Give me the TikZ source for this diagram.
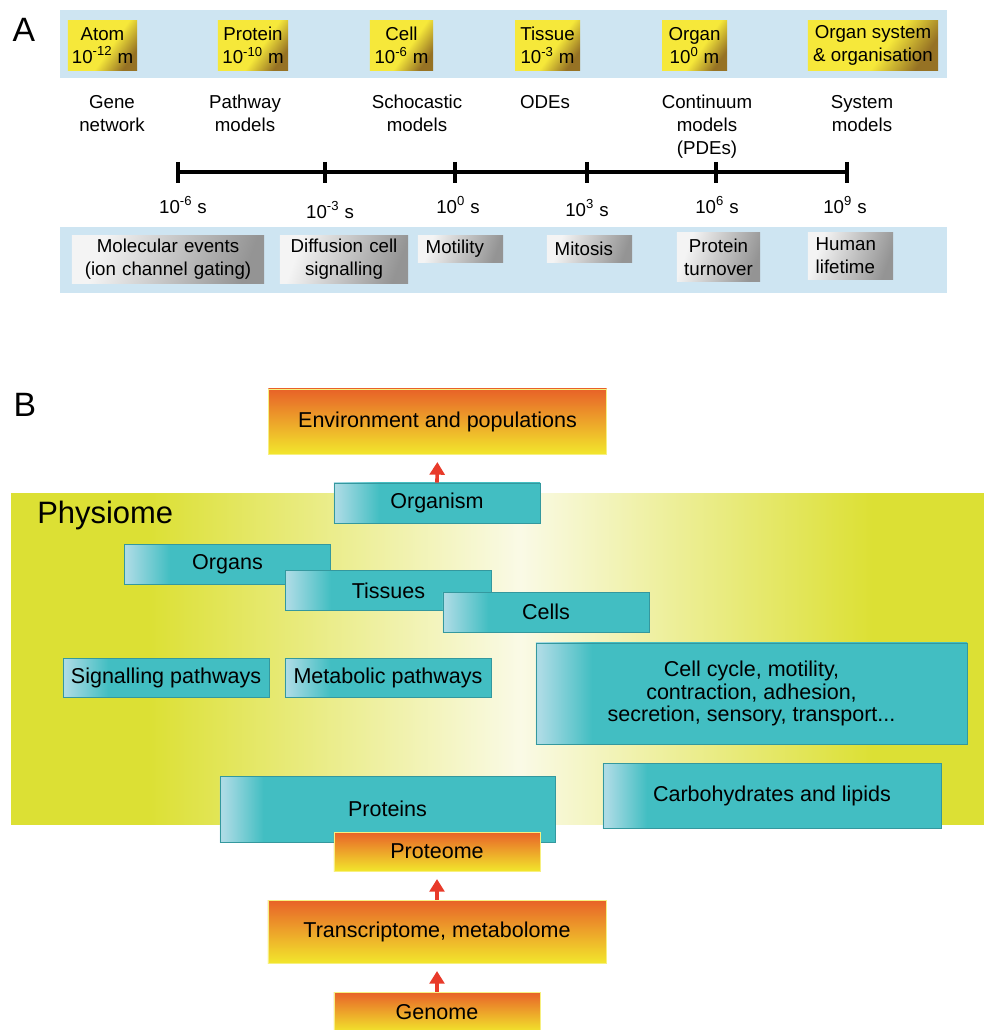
\documentclass[tikz,border=0pt]{standalone}
\usepackage{fontspec}
\setmainfont{Liberation Sans}
\usepackage{tikz}
\usetikzlibrary{arrows.meta,positioning}
\usepackage{xcolor}

\definecolor{bandblue}{RGB}{206,229,242}
\definecolor{goldA}{RGB}{246,232,58}
\definecolor{goldB}{RGB}{150,114,36}
\definecolor{grayA}{RGB}{244,244,244}
\definecolor{grayB}{RGB}{148,148,148}
\definecolor{tealA}{RGB}{172,219,229}
\definecolor{tealB}{RGB}{66,190,194}
\definecolor{tealline}{RGB}{52,152,158}
\definecolor{orTop}{RGB}{232,98,40}
\definecolor{orBot}{RGB}{242,230,44}
\definecolor{physA}{RGB}{220,224,52}
\definecolor{physW}{RGB}{250,250,230}
\definecolor{arrowred}{RGB}{232,58,42}

\pgfdeclarehorizontalshading{goldshade}{100bp}{color(0bp)=(goldA); color(56bp)=(goldA); color(75bp)=(goldB); color(100bp)=(goldB)}
\pgfdeclarehorizontalshading{grayshade}{100bp}{color(0bp)=(grayA); color(28bp)=(grayA); color(75bp)=(grayB); color(100bp)=(grayB)}
\pgfdeclarehorizontalshading{tealshade}{100bp}{color(0bp)=(tealA); color(25.5bp)=(tealA); color(36bp)=(tealB); color(100bp)=(tealB)}
\pgfdeclarehorizontalshading{widetealshade}{100bp}{color(0bp)=(tealA); color(25.5bp)=(tealA); color(31.5bp)=(tealB); color(100bp)=(tealB)}
\pgfdeclarehorizontalshading{physshade}{100bp}{color(0bp)=(physA); color(32bp)=(physA); color(51bp)=(physW); color(69bp)=(physA); color(100bp)=(physA)}

\begin{document}
\begin{tikzpicture}[x=0.025cm, y=-0.025cm,
    sizeA/.style={font=\fontsize{13.3}{16.3}\selectfont},
    sizeB/.style={font=\fontsize{15.3}{16.3}\selectfont},
    panel/.style={font=\fontsize{24}{24}\selectfont, inner sep=0},
    scalebox/.style={sizeA, shading=goldshade, shading angle=-35, inner sep=0, align=center,
        minimum height=1.225cm},
    eventbox/.style={sizeA, shading=grayshade, shading angle=-20, inner ysep=0, inner xsep=2pt, align=center},
    eventleft/.style={eventbox, inner xsep=5.5pt, align=left, text width=1.74cm},
    tealbox/.style={sizeB, shading=tealshade, draw=tealline, line width=0.5pt,
        inner sep=0, align=center, minimum width=5.15cm, minimum height=1cm},
    widebox/.style={tealbox, shading=widetealshade},
    omebox/.style={sizeB, top color=orTop, bottom color=orBot, draw=orBot!60!white, line width=0.4pt,
        inner sep=0, align=center, minimum width=5.15cm},
    timeline/.style={line width=2.7pt, black},
    uparrow/.style={-{Triangle[width=10.5pt,length=9pt]}, line width=2.6pt, arrowred, shorten >=5.5pt}
]
    \useasboundingbox (0,0) rectangle (984,1030);

    % panel A
    \node[panel] (labA) at (24,30) {A};
    \fill[bandblue] (60,10) rectangle (947,78);
    \fill[bandblue] (60,227) rectangle (947,293);

    \node[scalebox, minimum width=1.725cm] (atom) at (102.5,45.5) {Atom\\10\textsuperscript{-12} m};
    \node[scalebox, minimum width=1.75cm] (protein) at (253,45.5) {Protein\\10\textsuperscript{-10} m};
    \node[scalebox, minimum width=1.575cm] (cell) at (401.5,45.5) {Cell\\10\textsuperscript{-6} m};
    \node[scalebox, minimum width=1.625cm] (tissue) at (547.5,45.5) {Tissue\\10\textsuperscript{-3} m};
    \node[scalebox, minimum width=1.625cm] (organ) at (694.5,45.5) {Organ\\10\textsuperscript{0} m};
    \node[scalebox, minimum width=3.25cm] (system) at (873,45.5) {Organ system\\\& organisation};

    \node[sizeA, align=center, anchor=north, inner sep=0] (gene) at (112,95) {Gene\\network};
    \node[sizeA, align=center, anchor=north, inner sep=0] (pathway) at (245,95) {Pathway\\models};
    \node[sizeA, align=center, anchor=north, inner sep=0] (stoch) at (417,95) {Schocastic\\models};
    \node[sizeA, align=center, anchor=north, inner sep=0] (odes) at (545,95) {ODEs};
    \node[sizeA, align=center, anchor=north, inner sep=0] (pdes) at (707,95) {Continuum\\models\\(PDEs)};
    \node[sizeA, align=center, anchor=north, inner sep=0] (sysmod) at (862,95) {System\\models};

    \coordinate (t1) at (178,172);
    \coordinate (t2) at (325,172);
    \coordinate (t3) at (455,172);
    \coordinate (t4) at (587,172);
    \coordinate (t5) at (716,172);
    \coordinate (t6) at (847,172);
    \draw[timeline] (t1) -- (t6);
    \foreach \t in {t1,t2,t3,t4,t5,t6}
        \draw[timeline] ([yshift=7.2pt]\t) -- ([yshift=-7.6pt]\t);

    \node[sizeA] (s1) at (183,205) {10\textsuperscript{-6} s};
    \node[sizeA] (s2) at (330,210) {10\textsuperscript{-3} s};
    \node[sizeA] (s3) at (458,205) {10\textsuperscript{0} s};
    \node[sizeA] (s4) at (587,208) {10\textsuperscript{3} s};
    \node[sizeA] (s5) at (717,205) {10\textsuperscript{6} s};
    \node[sizeA] (s6) at (845,205) {10\textsuperscript{9} s};

    \node[eventbox, text width=4.66cm, minimum height=1.175cm] (molec) at (168,259.5) {Molecular events\\(ion channel gating)};
    \node[eventbox, text width=3.06cm, minimum height=1.175cm] (diffus) at (344,259.5) {Diffusion cell\\signalling};
    \node[eventleft, minimum height=0.65cm] (motil) at (460.5,249) {Motility};
    \node[eventleft, minimum height=0.65cm] (mitos) at (589.5,249) {Mitosis};
    \node[eventbox, text width=1.935cm, minimum height=1.2cm] (turn) at (718.5,257) {Protein\\turnover};
    \node[eventleft, minimum height=1.15cm] (human) at (850.5,256) {Human\\lifetime};

    % panel B
    \node[panel] (labB) at (25,405) {B};
    \shade[shading=physshade] (11,493) rectangle (990,824);
    \node[font=\fontsize{22}{22}\selectfont, anchor=west, inner sep=0] (physiome) at (37,515) {Physiome};

    \node[omebox, minimum width=8.45cm, minimum height=1.625cm] (env) at (437.5,421.5) {Environment and populations};
    \node[tealbox] (organism) at (437,503) {Organism};
    \draw[uparrow] (organism.north) -- (env.south);

    \node[tealbox] (organs) at (227.5,564.5) {Organs};
    \node[tealbox] (tissues) at (388.5,590.5) {Tissues};
    \node[tealbox] (cells) at (546,612) {Cells};

    \node[tealbox, minimum height=0.975cm] (signal) at (166,677.5) {Signalling pathways};
    \node[tealbox, minimum height=0.975cm] (metab) at (388,677.5) {Metabolic pathways};
    \node[widebox, minimum width=10.775cm, minimum height=2.525cm] (cycle) at (751.5,693.5)
        {Cell cycle, motility,\\contraction, adhesion,\\secretion, sensory, transport...};
    \node[widebox, minimum width=8.45cm, minimum height=1.625cm] (carbs) at (772,795.5) {Carbohydrates and lipids};
    \node[widebox, minimum width=8.375cm, minimum height=1.65cm] (proteins) at (387.5,809) {Proteins};

    \node[omebox, minimum height=0.975cm] (proteome) at (437,851.5) {Proteome};
    \node[omebox, minimum width=8.45cm, minimum height=1.575cm] (transc) at (437,931.5) {Transcriptome, metabolome};
    \node[omebox, minimum height=1cm] (genome) at (437,1012) {Genome};
    \draw[uparrow] (transc.north) -- (proteome.south);
    \draw[uparrow] (genome.north) -- (transc.south);
\end{tikzpicture}
\end{document}
